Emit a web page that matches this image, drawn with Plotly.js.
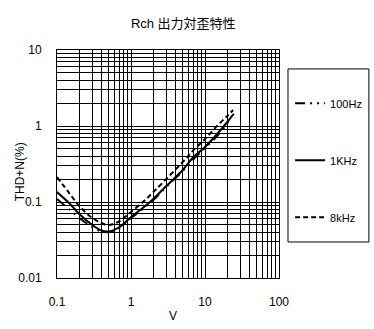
<!DOCTYPE html>
<html>
<head>
<meta charset="utf-8">
<script src="https://cdn.plot.ly/plotly-3.0.1.min.js"></script>
<style>html,body{margin:0;padding:0;background:#fff;}#chart{width:374px;height:329px;}</style>
</head>
<body>
<div id="chart"></div>
<script>
// Data
var seriesNames = ['100Hz', '1KHz', '8kHz'];

var v100 = [0.1, 0.15, 0.2, 0.3, 0.4, 0.5, 0.7, 1, 1.5, 2, 3, 5, 7, 10, 15, 22];
var thd100 = [0.1095, 0.0785, 0.0616, 0.0469, 0.0409, 0.0403, 0.0455, 0.0616, 0.0834, 0.106, 0.158, 0.256, 0.368, 0.513, 0.761, 1.236];

var v1k = [0.1, 0.15, 0.2, 0.3, 0.4, 0.5, 0.7, 1, 1.5, 2, 3, 5, 7, 10, 15, 20, 24.5];
var thd1k = [0.135, 0.0941, 0.0695, 0.0498, 0.0422, 0.0409, 0.0469, 0.0635, 0.0859, 0.1095, 0.162, 0.264, 0.391, 0.529, 0.809, 1.129, 1.45];

var v8k = [0.1, 0.15, 0.2, 0.3, 0.4, 0.5, 0.7, 1, 1.5, 2, 3, 5, 7, 10, 15, 20, 24];
var thd8k = [0.213, 0.127, 0.0886, 0.0616, 0.0529, 0.0498, 0.0562, 0.0739, 0.103, 0.135, 0.201, 0.336, 0.483, 0.674, 1.031, 1.354, 1.624];

var xTickVals = [0.1, 1, 10, 100];
var xTickText = ['0.1', '1', '10', '100'];
var yTickVals = [0.01, 0.1, 1, 10];
var yTickText = ['0.01', '0.1', '1', '10'];

var chartTitle = 'Rch 出力対歪特性';
var xTitle = 'V';
var yTitle = 'THD+N(%)';

var FONT = 'Liberation Sans, Arial, Noto Sans CJK JP, sans-serif';

var traces = [
  {x: v100, y: thd100, name: seriesNames[0], legendgroup: 'a', mode: 'lines',
   line: {color: '#000', width: 2, dash: '10px,5px,2px,5px,2px,5px', shape: 'spline'}},
  {x: v1k, y: thd1k, name: seriesNames[1], legendgroup: 'b', mode: 'lines',
   line: {color: '#000', width: 2, shape: 'spline'}},
  {x: v8k, y: thd8k, name: seriesNames[2], legendgroup: 'c', mode: 'lines',
   line: {color: '#000', width: 2, dash: '5px,3px', shape: 'spline'}}
];

var gridAxis = {
  type: 'log',
  showline: true, linecolor: '#000', linewidth: 1, mirror: true,
  showgrid: true, gridcolor: '#000', gridwidth: 1,
  zeroline: false, ticks: '',
  tickfont: {family: FONT, size: 12, color: '#000'},
  minor: {showgrid: true, gridcolor: '#000', gridwidth: 1, dtick: 'D1', ticks: ''}
};

var layout = {
  width: 374, height: 329,
  margin: {l: 57, r: 95, t: 50, b: 51, autoexpand: false},
  paper_bgcolor: '#fff', plot_bgcolor: '#fff',
  font: {family: FONT, size: 12, color: '#000'},
  title: {text: chartTitle, font: {family: FONT, size: 13, color: '#000'},
          x: 0.49, xanchor: 'center', y: 0.93, yanchor: 'middle'},
  xaxis: Object.assign({}, gridAxis, {
    range: [-1, 2], tickvals: xTickVals, ticktext: xTickText, ticklabelstandoff: 13
  }),
  yaxis: Object.assign({}, gridAxis, {
    range: [-2, 1], tickvals: yTickVals, ticktext: yTickText, ticklabelstandoff: 12
  }),
  annotations: [
    {text: xTitle, xref: 'paper', yref: 'paper', x: 0.523, y: -0.167,
     xanchor: 'center', yanchor: 'middle', showarrow: false,
     font: {family: FONT, size: 12, color: '#000'}},
    {text: yTitle, xref: 'paper', yref: 'paper', x: -0.165, y: 0.465,
     xanchor: 'center', yanchor: 'middle', showarrow: false, textangle: -90,
     font: {family: FONT, size: 12, color: '#000'}}
  ],
  showlegend: true,
  legend: {
    x: 1.05, xanchor: 'left', y: 0.83, yanchor: 'top',
    bgcolor: 'rgba(0,0,0,0)', borderwidth: 0,
    tracegroupgap: 38, font: {family: FONT, size: 11, color: '#000'}
  },
  shapes: [{
    type: 'rect', xref: 'paper', yref: 'paper',
    x0: 1.0405, x1: 1.405, y0: 0.158, y1: 0.917,
    line: {color: '#000', width: 1}, fillcolor: 'rgba(0,0,0,0)'
  }]
};

Plotly.newPlot('chart', traces, layout, {displayModeBar: false, staticPlot: true});
</script>
</body>
</html>
